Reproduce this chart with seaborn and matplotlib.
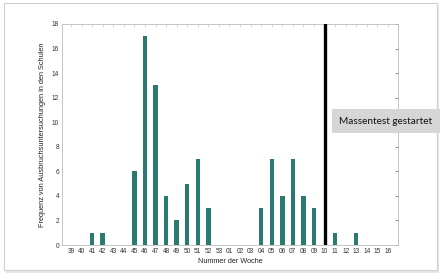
import matplotlib
matplotlib.use("Agg")
import matplotlib.pyplot as plt
import matplotlib.patches as mpatches
import seaborn as sns
import pandas as pd

weeks = ["39", "40", "41", "42", "43", "44", "45", "46", "47", "48", "49", "50", "51", "52", "53",
         "01", "02", "03", "04", "05", "06", "07", "08", "09", "10", "11", "12", "13", "14", "15", "16"]
counts = [0, 0, 1, 1, 0, 0, 6, 17, 13, 4, 2, 5, 7, 3, 0,
          0, 0, 0, 3, 7, 4, 7, 4, 3, 0, 1, 0, 1, 0, 0, 0]
y_ticks = [0, 2, 4, 6, 8, 10, 12, 14, 16, 18]
event_week = "10"
event_label = "Massentest gestartet"
x_title = "Nummer der Woche"
y_title = "Frequenz von Ausbruchsuntersuchungen in den Schulen"

df = pd.DataFrame({"week": weeks, "count": counts})

sns.set_theme(style="white")
plt.rcParams["font.family"] = ["Liberation Sans", "DejaVu Sans"]

W, H = 444, 279
fig = plt.figure(figsize=(W / 100, H / 100), dpi=100)
fig.patch.set_facecolor("white")

# card frame with shadow
shadow = mpatches.Rectangle((6 / W, 1 - 273 / H), 433 / W, 268 / H, transform=fig.transFigure,
                            facecolor="#e6e6e6", edgecolor="none", zorder=-3)
card = mpatches.Rectangle((4 / W, 1 - 270 / H), 433 / W, 267 / H, transform=fig.transFigure,
                          facecolor="white", edgecolor="#d0d0d0", linewidth=0.8, zorder=-2)
fig.patches.extend([shadow, card])

ax = fig.add_axes([62 / W, 34 / H, 336 / W, 221 / H])
ax.set_facecolor("none")
sns.barplot(data=df, x="week", y="count", order=weeks, color="#2a7a72", saturation=1,
            width=0.42, linewidth=0, ax=ax)

ax.set_xlim(-0.85, len(weeks) - 0.05)
ax.set_ylim(0, 18)
ax.set_yticks(y_ticks)
ax.tick_params(axis="both", labelsize=4.7, colors="#333333", direction="in", length=2, width=0.4,
               top=True, right=True, pad=2)
ax.tick_params(axis="x", length=0)
ax.set_xticks(range(len(weeks)))
ax.set_xticklabels(weeks)
ax.tick_params(axis="y", left=False)
for s in ax.spines.values():
    s.set_color("#bbbbbb")
    s.set_linewidth(0.6)

# top minor-style ticks
axt = ax.secondary_xaxis("top")
axt.set_xticks(range(len(weeks)))
axt.tick_params(direction="in", length=2, width=0.4, colors="#bbbbbb", labeltop=False)
axt.spines["top"].set_visible(False)

ax.set_xlabel(x_title, fontsize=5.2, color="#222222", labelpad=2)
ax.set_ylabel(y_title, fontsize=5.3, color="#222222", labelpad=4)

ax.axvline(weeks.index(event_week), color="black", linewidth=2.4, zorder=5)

fig.text(386 / W, 1 - 121 / H, event_label, fontsize=7.2, family="Lato", color="#111111",
         ha="center", va="center",
         bbox=dict(boxstyle="square,pad=0.75", facecolor="#d6d6d6", edgecolor="none"))

fig.savefig("out.png", dpi=100)
